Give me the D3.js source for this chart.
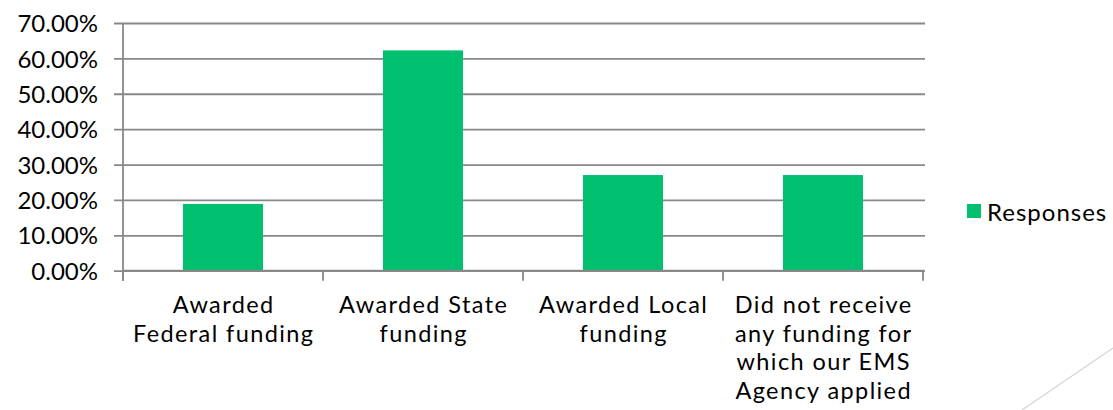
<!DOCTYPE html>
<html>
<head>
<meta charset="utf-8">
<script src="https://cdn.jsdelivr.net/npm/d3@7"></script>
<style>
  html, body { margin: 0; padding: 0; background: #fff; }
  svg { display: block; font-family: Lato, "Open Sans", sans-serif; }
</style>
</head>
<body>
<svg id="chart" width="1113" height="410"></svg>
<script>
const categories = [
  "Awarded\nFederal funding",
  "Awarded State\nfunding",
  "Awarded Local\nfunding",
  "Did not receive\nany funding for\nwhich our EMS\nAgency applied"
];
const responses = [0.1887, 0.6226, 0.2703, 0.2703];
const yTicks = [0, 0.1, 0.2, 0.3, 0.4, 0.5, 0.6, 0.7];
const seriesName = "Responses";

(function () {
const svg = d3.select("#chart");
const pLeft = 123, pRight = 923, pTop = 23, pBottom = 270.7;
const gridColor = "#888888";
const barColor = "#00BF6F";
const font = "Lato, 'Open Sans', sans-serif";

const x = d3.scaleBand().domain(categories).range([pLeft, pRight])
  .paddingInner(0.6).paddingOuter(0.3);
const y = d3.scaleLinear().domain([0, 0.7]).range([pBottom, pTop]);
const fmt = d3.format(".2%");

// gridlines + y ticks
const yAxis = d3.axisLeft(y).tickValues(yTicks).tickFormat(fmt)
  .tickSize(-(pRight - pLeft + 2)).tickSizeOuter(0).tickPadding(16);
const gy = svg.append("g").attr("transform", `translate(${pLeft},0)`).call(yAxis);
gy.select(".domain").remove();
gy.selectAll(".tick line").attr("stroke", gridColor).attr("stroke-width", 1.8).attr("x1", -9);
gy.selectAll(".tick text").attr("font-size", 24).attr("fill", "#000")
  .attr("font-family", font).attr("x", -25).attr("dy", "0.36em");

// bars
svg.append("g").selectAll("rect").data(categories).join("rect")
  .attr("x", d => x(d))
  .attr("width", x.bandwidth())
  .attr("y", (d, i) => y(responses[i]))
  .attr("height", (d, i) => y(0) - y(responses[i]))
  .attr("fill", barColor);

// y axis line
svg.append("line").attr("x1", pLeft).attr("x2", pLeft).attr("y1", pTop).attr("y2", pBottom + 10)
  .attr("stroke", gridColor).attr("stroke-width", 1.8);

// x axis with category boundary ticks
const bvals = categories.map((c, i) => pLeft + i * x.step()).concat([pRight]);
svg.append("line").attr("x1", pLeft).attr("x2", pRight + 1).attr("y1", pBottom).attr("y2", pBottom)
  .attr("stroke", gridColor).attr("stroke-width", 1.8);
svg.append("g").selectAll("line").data(bvals).join("line")
  .attr("x1", d => d).attr("x2", d => d).attr("y1", pBottom).attr("y2", pBottom + 10)
  .attr("stroke", gridColor).attr("stroke-width", 1.8);

// category labels
const lab = svg.append("g").selectAll("text").data(categories).join("text")
  .attr("x", d => x(d) + x.bandwidth() / 2)
  .attr("y", 313)
  .attr("text-anchor", "middle")
  .attr("font-size", 23.5)
  .attr("letter-spacing", 1.4)
  .attr("font-family", font)
  .attr("fill", "#000");
lab.each(function(d) {
  const t = d3.select(this);
  d.split("\n").forEach((line, i) => {
    t.append("tspan").attr("x", x(d) + x.bandwidth() / 2 + 0.7).attr("dy", i === 0 ? 0 : 28.5).text(line);
  });
});

// legend
svg.append("rect").attr("x", 967).attr("y", 204).attr("width", 14).attr("height", 14).attr("fill", barColor);
svg.append("text").attr("x", 987).attr("y", 220.5).attr("font-size", 24).attr("font-family", font)
  .attr("letter-spacing", 1).attr("fill", "#000").text(seriesName);

// decorative slide line
svg.append("line").attr("x1", 1022).attr("y1", 410).attr("x2", 1113).attr("y2", 348)
  .attr("stroke", "#d4d4d4").attr("stroke-width", 1.2);
})();
</script>
</body>
</html>
